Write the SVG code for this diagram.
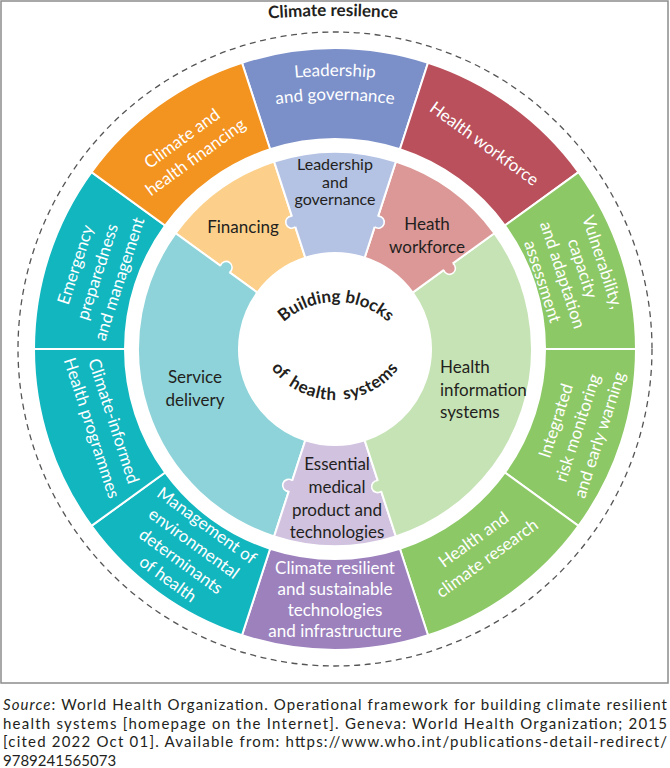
<svg xmlns="http://www.w3.org/2000/svg" width="670" height="768" viewBox="0 0 670 768">
<style>
.ot{font-family:Lato,"Liberation Sans",sans-serif;font-size:17px;fill:#fff;text-anchor:middle}
.it{font-family:Lato,"Liberation Sans",sans-serif;font-size:17px;fill:#231f20;text-anchor:middle}
.ct{font-family:Lato,"Liberation Sans",sans-serif;font-size:17px;font-weight:bold;fill:#231f20}
.seg{stroke:#fff;stroke-width:2}
.ke{fill:none;stroke:#fff;stroke-width:1.6}
.cap{font-family:Lato,"Liberation Sans",sans-serif;font-size:15px;fill:#231f20}
</style>
<defs>
<path id="titleArc" d="M 213,25 A 800 800 0 0 1 453,25"/>
<path id="topArc" d="M 276.25,329.86 A 78 78 0 0 1 395.75,329.86"/>
<path id="botArc" d="M 262.5,353.8 A 80 80 0 0 0 407.5,353.8"/>
<path id="lead1" d="M 190.7,101.4 A 422 422 0 0 1 479.3,101.4"/>
<path id="lead2" d="M 198.9,124 A 398 398 0 0 1 471.1,124"/>
</defs>
<rect x="1" y="1" width="667" height="682" fill="#fff" stroke="#8c8c8c" stroke-width="1.5"/>
<g id="climate-resilience">
<circle cx="335" cy="349" r="317" fill="none" stroke="#555" stroke-width="1.3" stroke-dasharray="6 4.5"/>
<text class="ct"><textPath href="#titleArc" startOffset="50%" text-anchor="middle">Climate resilence</textPath></text>
</g>
<g id="outer-leadership">
<path class="seg" fill="#7B8FC9" d="M 241.99,62.73 A 301 301 0 0 1 428.01,62.73 L 399.89,149.28 A 210 210 0 0 0 270.11,149.28 Z"/>
<text class="ot"><textPath href="#lead1" startOffset="50%">Leadership</textPath></text>
<text class="ot"><textPath href="#lead2" startOffset="50%">and governance</textPath></text>
</g>
<g id="outer-health-workforce">
<path class="seg" fill="#B9505B" d="M 428.01,62.73 A 301 301 0 0 1 578.51,172.07 L 504.89,225.56 A 210 210 0 0 0 399.89,149.28 Z"/>
<g transform="translate(484.3,143.5) rotate(36)"><text class="ot" y="6">Health workforce</text></g>
</g>
<g id="outer-vulnerability">
<path class="seg" fill="#8DC866" d="M 578.51,172.07 A 301 301 0 0 1 636,349 L 545,349 A 210 210 0 0 0 504.89,225.56 Z"/>
<g transform="translate(572.8,271.7) rotate(72)">
<text class="ot" y="-25.5">Vulnerability,</text>
<text class="ot" y="-4.5">capacity</text>
<text class="ot" y="16.5">and adaptation</text>
<text class="ot" y="37.5">assessment</text>
</g>
</g>
<g id="outer-integrated-risk">
<path class="seg" fill="#8DC866" d="M 636,349 A 301 301 0 0 1 578.51,525.93 L 504.89,472.44 A 210 210 0 0 0 545,349 Z"/>
<g transform="translate(577.5,427.8) rotate(-72)">
<text class="ot" y="-17">Integrated</text>
<text class="ot" y="6">risk monitoring</text>
<text class="ot" y="29">and early warning</text>
</g>
</g>
<g id="outer-research">
<path class="seg" fill="#8DC866" d="M 578.51,525.93 A 301 301 0 0 1 428.01,635.27 L 399.89,548.72 A 210 210 0 0 0 504.89,472.44 Z"/>
<g transform="translate(480.2,548.8) rotate(-36)">
<text class="ot" y="-5.5">Health and</text>
<text class="ot" y="17.5">climate research</text>
</g>
</g>
<g id="outer-technologies">
<path class="seg" fill="#9C81BD" d="M 428.01,635.27 A 301 301 0 0 1 241.99,635.27 L 270.11,548.72 A 210 210 0 0 0 399.89,548.72 Z"/>
<text class="ot" x="335" y="574">Climate resilient</text>
<text class="ot" x="335" y="595">and sustainable</text>
<text class="ot" x="335" y="616">technologies</text>
<text class="ot" x="335" y="637">and infrastructure</text>
</g>
<g id="outer-environmental">
<path class="seg" fill="#12B6BF" d="M 241.99,635.27 A 301 301 0 0 1 91.49,525.93 L 165.11,472.44 A 210 210 0 0 0 270.11,548.72 Z"/>
<g transform="translate(187.5,552.1) rotate(36)">
<text class="ot" y="-27">Management of</text>
<text class="ot" y="-5">environmental</text>
<text class="ot" y="17">determinants</text>
<text class="ot" y="39">of health</text>
</g>
</g>
<g id="outer-programmes">
<path class="seg" fill="#12B6BF" d="M 91.49,525.93 A 301 301 0 0 1 34,349 L 125,349 A 210 210 0 0 0 165.11,472.44 Z"/>
<g transform="translate(102.9,424.4) rotate(72)">
<text class="ot" y="-5.5">Climate-informed</text>
<text class="ot" y="17.5">Health programmes</text>
</g>
</g>
<g id="outer-emergency">
<path class="seg" fill="#12B6BF" d="M 34,349 A 301 301 0 0 1 91.49,172.07 L 165.11,225.56 A 210 210 0 0 0 125,349 Z"/>
<g transform="translate(97.2,271.7) rotate(-72)">
<text class="ot" y="-17">Emergency</text>
<text class="ot" y="6">preparedness</text>
<text class="ot" y="29">and management</text>
</g>
</g>
<g id="outer-financing">
<path class="seg" fill="#F39320" d="M 91.49,172.07 A 301 301 0 0 1 241.99,62.73 L 270.11,149.28 A 210 210 0 0 0 165.11,225.56 Z"/>
<g transform="translate(188.6,147.6) rotate(-36)">
<text class="ot" y="-5.5">Climate and</text>
<text class="ot" y="17.5">health financing</text>
</g>
</g>
<g id="inner-financing">
<path class="seg" fill="#FCD08B" d="M 175.63,233.21 A 197 197 0 0 1 274.13,161.64 L 305.34,257.70 A 96 96 0 0 0 257.34,292.57 Z"/>
<text class="it" x="243" y="233">Financing</text>
</g>
<g id="inner-service-delivery">
<path class="seg" fill="#8DD3D9" d="M 274.13,536.36 A 197 197 0 0 1 175.63,233.21 L 257.34,292.57 A 96 96 0 0 0 305.34,440.30 Z"/>
<circle cx="226.16" cy="267.44" r="6" fill="#8DD3D9"/>
<path class="ke" d="M 229.55,272.39 A 6 6 0 1 0 220.40,265.73"/>
<text class="it" x="195" y="383">Service</text>
<text class="it" x="195" y="405.5">delivery</text>
</g>
<g id="inner-medical-products">
<path class="seg" fill="#D1C3E0" d="M 395.87,536.36 A 197 197 0 0 1 274.13,536.36 L 305.34,440.30 A 96 96 0 0 0 364.66,440.30 Z"/>
<circle cx="288.60" cy="485.34" r="6" fill="#D1C3E0"/>
<path class="ke" d="M 292.25,480.57 A 6 6 0 1 0 288.75,491.34"/>
<text class="it" x="337" y="470">Essential</text>
<text class="it" x="337" y="493">medical</text>
<text class="it" x="337" y="515.5">product and</text>
<text class="it" x="337" y="538">technologies</text>
</g>
<g id="inner-information-systems">
<path class="seg" fill="#C6E3B5" d="M 494.37,233.21 A 197 197 0 0 1 395.87,536.36 L 364.66,440.30 A 96 96 0 0 0 412.66,292.57 Z"/>
<circle cx="377.60" cy="486.58" r="6" fill="#C6E3B5"/>
<path class="ke" d="M 377.75,480.57 A 6 6 0 1 0 381.25,491.34"/>
<text class="it" x="440" y="373" style="text-anchor:start">Health</text>
<text class="it" x="440" y="395.5" style="text-anchor:start">information</text>
<text class="it" x="440" y="418" style="text-anchor:start">systems</text>
</g>
<g id="inner-health-workforce">
<path class="seg" fill="#DB9896" d="M 395.87,161.64 A 197 197 0 0 1 494.37,233.21 L 412.66,292.57 A 96 96 0 0 0 364.66,257.70 Z"/>
<circle cx="449.44" cy="268.33" r="6" fill="#DB9896"/>
<path class="ke" d="M 443.68,270.03 A 6 6 0 1 0 452.84,263.38"/>
<text class="it" x="427" y="230">Heath</text>
<text class="it" x="427" y="253">workforce</text>
</g>
<g id="inner-leadership">
<path class="seg" fill="#B4C2E4" d="M 274.13,161.64 A 197 197 0 0 1 395.87,161.64 L 364.66,257.70 A 96 96 0 0 0 305.34,257.70 Z"/>
<circle cx="291.69" cy="222.17" r="6" fill="#B4C2E4"/>
<path class="ke" d="M 295.34,226.94 A 6 6 0 1 1 291.84,216.17"/>
<circle cx="378.31" cy="222.17" r="6" fill="#B4C2E4"/>
<path class="ke" d="M 374.66,226.94 A 6 6 0 1 0 378.16,216.17"/>
<text class="it" x="335" y="170" style="font-size:16px">Leadership</text>
<text class="it" x="335" y="187.5" style="font-size:16px">and</text>
<text class="it" x="335" y="205" style="font-size:16px">governance</text>
</g>
<g id="building-blocks">
<circle cx="335" cy="349" r="96" fill="#fff"/>
<text class="ct"><textPath href="#topArc" startOffset="50%" text-anchor="middle">Building blocks</textPath></text>
<text class="ct" style="letter-spacing:0.6px;word-spacing:3px"><textPath href="#botArc" startOffset="50%" text-anchor="middle">of health systems</textPath></text>
</g>
<g id="connectors"></g>
<g id="caption">
<text class="cap" x="3" y="710" textLength="664" lengthAdjust="spacing"><tspan font-style="italic">Source</tspan>: World Health Organization. Operational framework for building climate resilient</text>
<text class="cap" x="3" y="728.5" textLength="664" lengthAdjust="spacing">health systems [homepage on the Internet]. Geneva: World Health Organization; 2015</text>
<text class="cap" x="3" y="747" textLength="664" lengthAdjust="spacing">[cited 2022 Oct 01]. Available from: https://www.who.int/publications-detail-redirect/</text>
<text class="cap" x="3" y="765.5">9789241565073</text>
</g>
</svg>
